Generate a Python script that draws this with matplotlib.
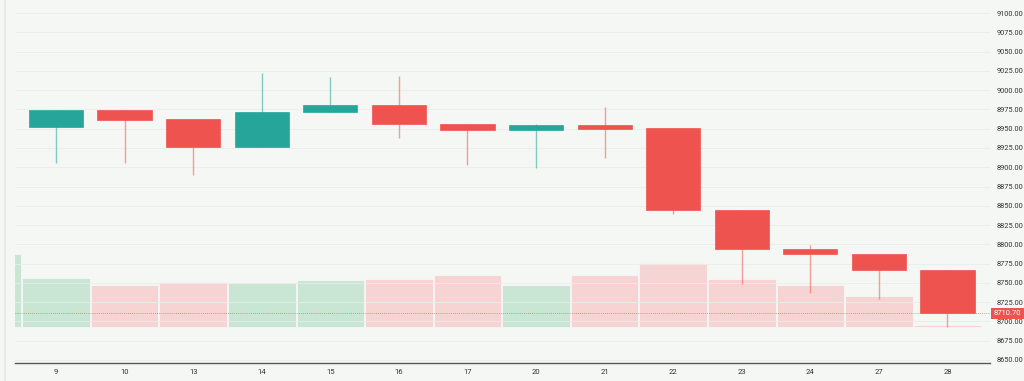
import matplotlib.pyplot as plt
import matplotlib.transforms as mtransforms
import numpy as np

plt.rcParams['font.family'] = ['Roboto', 'DejaVu Sans']

# daily OHLC
days = ['9', '10', '13', '14', '15', '16', '17', '20', '21', '22', '23', '24', '27', '28']
opens = [8952.5, 8974.0, 8962.0, 8926.6, 8971.8, 8980.7, 8956.0, 8947.9, 8954.7, 8950.4, 8844.5, 8794.0, 8787.0, 8766.7]
highs = [8974.2, 8974.0, 8962.0, 9022.6, 9017.0, 9018.3, 8956.0, 8956.0, 8977.7, 8950.4, 8844.5, 8798.7, 8787.0, 8766.7]
lows = [8905.8, 8906.0, 8890.0, 8926.6, 8971.8, 8937.5, 8902.9, 8898.6, 8911.6, 8839.0, 8748.0, 8737.2, 8729.5, 8693.0]
closes = [8974.2, 8961.6, 8926.6, 8972.0, 8980.2, 8955.6, 8947.9, 8954.7, 8950.0, 8844.0, 8794.0, 8787.0, 8766.3, 8710.7]

# volume (thousands); first value belongs to the partly visible previous day
prev_volume = 14.6
volumes = [9.8, 8.4, 9.0, 8.8, 9.4, 9.7, 10.4, 8.4, 10.5, 12.8, 9.6, 8.4, 6.2, 0.4]
last_price = 8710.70

UP = '#26a69a'
DOWN = '#ef5350'
BG = '#f5f7f4'

x = np.arange(len(days))
up = np.array(closes) >= np.array(opens)
colors = [UP if u else DOWN for u in up]

fig = plt.figure(figsize=(10.24, 3.81), dpi=100, facecolor=BG)
ax = fig.add_axes([15 / 1024, 18 / 381, 975 / 1024, 363 / 381])
ax.set_facecolor(BG)

# volume overlay on its own scale
axv = ax.twinx()
vmax = max(prev_volume, max(volumes))
axv.set_ylim(-vmax * 36 / 73, vmax * 327 / 73)
vol_colors = ['#c9e6d5' if u else '#f5d4d3' for u in up]
axv.bar(x, volumes, width=0.985, color=vol_colors, edgecolor='#f7f7f7', linewidth=0.6, zorder=1)
axv.bar([-1], [prev_volume], width=0.985, color='#c9e6d5', edgecolor='#f7f7f7', linewidth=0.6, zorder=1)
axv.set_yticks([])
for s in axv.spines.values():
    s.set_visible(False)

# put price axis on top of the volume axis
ax.set_zorder(axv.get_zorder() + 1)
ax.patch.set_visible(False)

# wicks and bodies
for i in range(len(days)):
    ax.vlines(x[i], lows[i], highs[i], color=colors[i], alpha=0.55, linewidth=1.0, zorder=2)
body_bottom = np.minimum(opens, closes)
body_h = np.maximum(np.abs(np.array(closes) - np.array(opens)), 2.5)
ax.bar(x, body_h, bottom=body_bottom, width=0.79, color=colors, edgecolor=colors,
       linewidth=0.5, zorder=3)

# last price line and label
ax.axhline(last_price, color=DOWN, linestyle=(0, (1, 1.5)), linewidth=0.6, alpha=0.8, zorder=2)
trans = mtransforms.blended_transform_factory(ax.transAxes, ax.transData)
ax.text(1.004, last_price, f'{last_price:.2f}', transform=trans, fontsize=5.5, color='white',
        va='center', ha='left', clip_on=False, zorder=5,
        bbox=dict(boxstyle='square,pad=0.35', fc=DOWN, ec='none'))

ax.set_xlim(-0.598, 13.62)
ax.set_ylim(8646.1, 9116.9)
yt = np.arange(8650, 9101, 25)
ax.set_yticks(yt)
ax.set_yticklabels([f'{v:.2f}' for v in yt])
ax.yaxis.tick_right()
ax.tick_params(axis='y', length=0, pad=4.5, labelsize=5.3, labelcolor='#333333')
ax.set_xticks(x)
ax.set_xticklabels(days)
ax.tick_params(axis='x', length=0, pad=4, labelsize=5.5, labelcolor='#333333')
ax.grid(axis='y', color='#eaedea', linewidth=0.6)
ax.set_axisbelow(True)

for s in ['top', 'right', 'left']:
    ax.spines[s].set_visible(False)
ax.spines['bottom'].set_color('#555a60')
ax.spines['bottom'].set_linewidth(1.0)

# thin grey border on the far left
fig.add_artist(plt.Line2D([5 / 1024, 5 / 1024], [0, 1], color='#e6e8eb', linewidth=1.5))

fig.savefig('out.png', dpi=100, facecolor=BG)
